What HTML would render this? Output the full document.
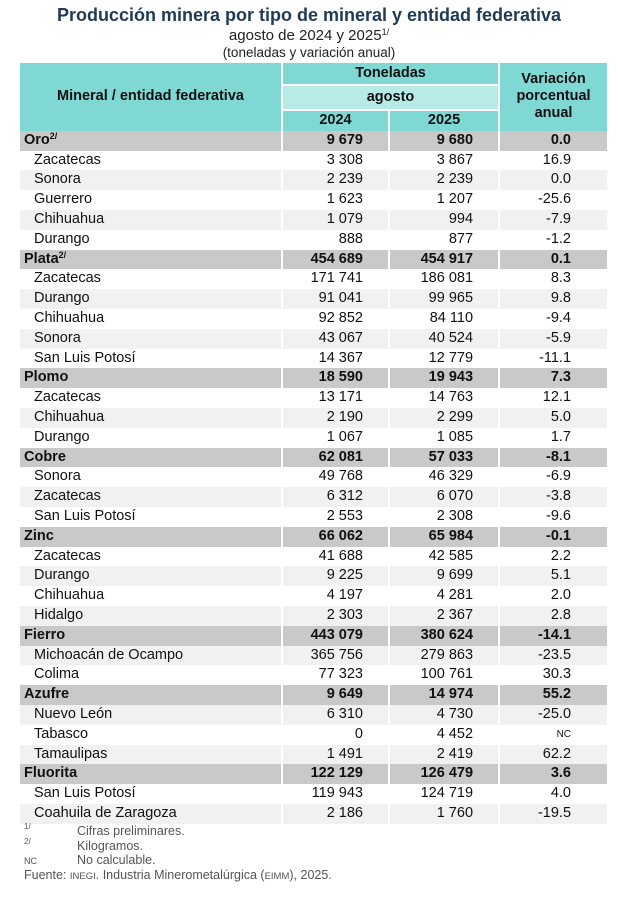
<!DOCTYPE html>
<html><head><meta charset="utf-8"><style>
body{margin:0;width:618px;height:912px;background:#fff;font-family:"Liberation Sans",Arial,sans-serif;position:relative;overflow:hidden;color:#111}
.t{position:absolute;left:0;width:618px;text-align:center}
table{position:absolute;left:18px;top:63px;border-collapse:collapse;table-layout:fixed;width:589px}
td{padding:0;height:19.8px;font-size:14.5px;line-height:19.8px;border-left:2px solid #fff;border-right:2px solid #fff;white-space:nowrap}
td.n{text-align:right;padding-right:25px}
td.v{text-align:right;padding-right:36px}
td.s{padding-left:14px}
tr.m td{background:#c9c9c9;font-weight:bold}
tr.m td.s{padding-left:4px}
tr.g td{background:#f1f1f1}
.h td{background:#7fd8d3;font-weight:bold;text-align:center;line-height:17px}
.h td.a{background:#b8ebe7}
sup{font-size:9px;vertical-align:top;line-height:10px}
.f{position:absolute;font-size:12.5px;color:#555}
</style></head><body>
<div class="t" style="top:-14px;font-size:16px;color:#1f3a57;font-weight:bold">Cuadro 2</div>
<div class="t" style="top:5px;font-size:18px;font-weight:bold;color:#1f3a57">Producción minera por tipo de mineral y entidad federativa</div>
<div class="t" style="top:27px;font-size:15px;color:#222">agosto de 2024 y 2025<sup>1/</sup></div>
<div class="t" style="top:45px;font-size:13.5px;color:#222">(toneladas y variación anual)</div>
<table>
<colgroup><col style="width:263px"><col style="width:107px"><col style="width:110px"><col style="width:109px"></colgroup>
<tr class="h"><td rowspan="3" style="height:65px">Mineral / entidad federativa</td><td colspan="2" style="height:21px">Toneladas</td><td rowspan="3">Variación<br>porcentual<br>anual</td></tr>
<tr class="h"><td colspan="2" class="a" style="height:23px;border-top:2px solid #fff;border-bottom:2px solid #fff">agosto</td></tr>
<tr class="h"><td style="height:19px">2024</td><td>2025</td></tr>
<tr class="m"><td class="s">Oro<sup>2/</sup></td><td class="n">9 679</td><td class="n">9 680</td><td class="v">0.0</td></tr>
<tr><td class="s">Zacatecas</td><td class="n">3 308</td><td class="n">3 867</td><td class="v">16.9</td></tr>
<tr class="g"><td class="s">Sonora</td><td class="n">2 239</td><td class="n">2 239</td><td class="v">0.0</td></tr>
<tr><td class="s">Guerrero</td><td class="n">1 623</td><td class="n">1 207</td><td class="v">-25.6</td></tr>
<tr class="g"><td class="s">Chihuahua</td><td class="n">1 079</td><td class="n">994</td><td class="v">-7.9</td></tr>
<tr><td class="s">Durango</td><td class="n">888</td><td class="n">877</td><td class="v">-1.2</td></tr>
<tr class="m"><td class="s">Plata<sup>2/</sup></td><td class="n">454 689</td><td class="n">454 917</td><td class="v">0.1</td></tr>
<tr><td class="s">Zacatecas</td><td class="n">171 741</td><td class="n">186 081</td><td class="v">8.3</td></tr>
<tr class="g"><td class="s">Durango</td><td class="n">91 041</td><td class="n">99 965</td><td class="v">9.8</td></tr>
<tr><td class="s">Chihuahua</td><td class="n">92 852</td><td class="n">84 110</td><td class="v">-9.4</td></tr>
<tr class="g"><td class="s">Sonora</td><td class="n">43 067</td><td class="n">40 524</td><td class="v">-5.9</td></tr>
<tr><td class="s">San Luis Potosí</td><td class="n">14 367</td><td class="n">12 779</td><td class="v">-11.1</td></tr>
<tr class="m"><td class="s">Plomo</td><td class="n">18 590</td><td class="n">19 943</td><td class="v">7.3</td></tr>
<tr><td class="s">Zacatecas</td><td class="n">13 171</td><td class="n">14 763</td><td class="v">12.1</td></tr>
<tr class="g"><td class="s">Chihuahua</td><td class="n">2 190</td><td class="n">2 299</td><td class="v">5.0</td></tr>
<tr><td class="s">Durango</td><td class="n">1 067</td><td class="n">1 085</td><td class="v">1.7</td></tr>
<tr class="m"><td class="s">Cobre</td><td class="n">62 081</td><td class="n">57 033</td><td class="v">-8.1</td></tr>
<tr><td class="s">Sonora</td><td class="n">49 768</td><td class="n">46 329</td><td class="v">-6.9</td></tr>
<tr class="g"><td class="s">Zacatecas</td><td class="n">6 312</td><td class="n">6 070</td><td class="v">-3.8</td></tr>
<tr><td class="s">San Luis Potosí</td><td class="n">2 553</td><td class="n">2 308</td><td class="v">-9.6</td></tr>
<tr class="m"><td class="s">Zinc</td><td class="n">66 062</td><td class="n">65 984</td><td class="v">-0.1</td></tr>
<tr><td class="s">Zacatecas</td><td class="n">41 688</td><td class="n">42 585</td><td class="v">2.2</td></tr>
<tr class="g"><td class="s">Durango</td><td class="n">9 225</td><td class="n">9 699</td><td class="v">5.1</td></tr>
<tr><td class="s">Chihuahua</td><td class="n">4 197</td><td class="n">4 281</td><td class="v">2.0</td></tr>
<tr class="g"><td class="s">Hidalgo</td><td class="n">2 303</td><td class="n">2 367</td><td class="v">2.8</td></tr>
<tr class="m"><td class="s">Fierro</td><td class="n">443 079</td><td class="n">380 624</td><td class="v">-14.1</td></tr>
<tr class="g"><td class="s">Michoacán de Ocampo</td><td class="n">365 756</td><td class="n">279 863</td><td class="v">-23.5</td></tr>
<tr><td class="s">Colima</td><td class="n">77 323</td><td class="n">100 761</td><td class="v">30.3</td></tr>
<tr class="m"><td class="s">Azufre</td><td class="n">9 649</td><td class="n">14 974</td><td class="v">55.2</td></tr>
<tr class="g"><td class="s">Nuevo León</td><td class="n">6 310</td><td class="n">4 730</td><td class="v">-25.0</td></tr>
<tr><td class="s">Tabasco</td><td class="n">0</td><td class="n">4 452</td><td class="v" style="font-size:10px">NC</td></tr>
<tr class="g"><td class="s">Tamaulipas</td><td class="n">1 491</td><td class="n">2 419</td><td class="v">62.2</td></tr>
<tr class="m"><td class="s">Fluorita</td><td class="n">122 129</td><td class="n">126 479</td><td class="v">3.6</td></tr>
<tr><td class="s">San Luis Potosí</td><td class="n">119 943</td><td class="n">124 719</td><td class="v">4.0</td></tr>
<tr class="g"><td class="s">Coahuila de Zaragoza</td><td class="n">2 186</td><td class="n">1 760</td><td class="v">-19.5</td></tr>
</table>
<div class="f" style="left:24px;top:822px;font-size:8px">1/</div><div class="f" style="left:77px;top:824px">Cifras preliminares.</div>
<div class="f" style="left:24px;top:837px;font-size:8px">2/</div><div class="f" style="left:77px;top:839px">Kilogramos.</div>
<div class="f" style="left:24px;top:856px;font-size:9px">NC</div><div class="f" style="left:77px;top:853px">No calculable.</div>
<div class="f" style="left:24px;top:868px">Fuente: <span style="font-size:9.5px">INEGI</span>. Industria Minerometalúrgica (<span style="font-size:9.5px">EIMM</span>), 2025.</div>
</body></html>
